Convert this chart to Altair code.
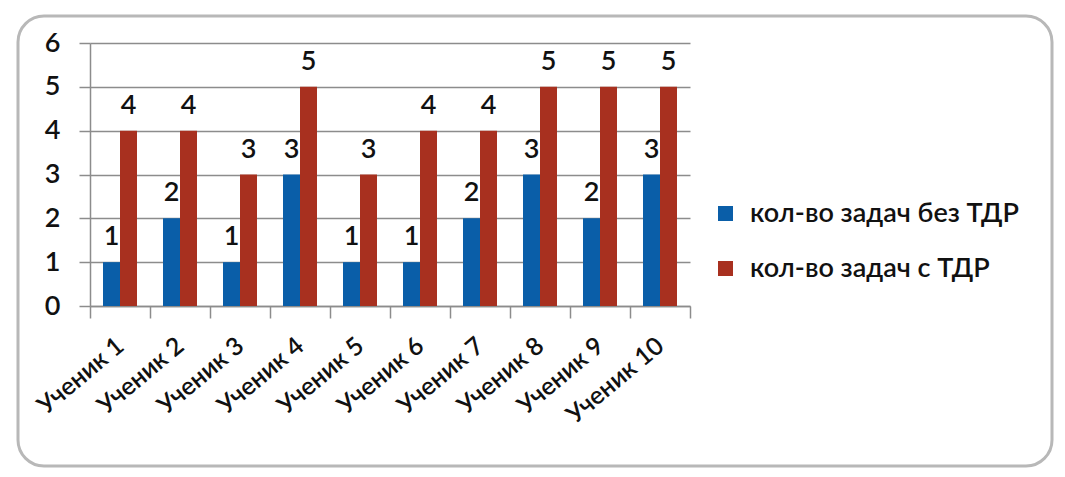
import altair as alt
import pandas as pd

students = ["Ученик 1", "Ученик 2", "Ученик 3", "Ученик 4", "Ученик 5",
            "Ученик 6", "Ученик 7", "Ученик 8", "Ученик 9", "Ученик 10"]
without_tdr = [1, 2, 1, 3, 1, 1, 2, 3, 2, 3]
with_tdr = [4, 4, 3, 5, 3, 4, 4, 5, 5, 5]
series_names = ["кол-во задач без ТДР", "кол-во задач с ТДР"]
series_colors = ["#0A5EA8", "#A8301F"]
y_ticks = [0, 1, 2, 3, 4, 5, 6]

rows = []
for s, a, b in zip(students, without_tdr, with_tdr):
    rows.append({"student": s, "series": series_names[0], "value": a})
    rows.append({"student": s, "series": series_names[1], "value": b})
df = pd.DataFrame(rows)

FONT = "Lato"
WEIGHT = 600
GRID = "#8c8c8c"
TXT = "#111111"

x_enc = alt.X(
    "student:N", sort=students, title=None,
    scale=alt.Scale(paddingInner=0, paddingOuter=0),
    axis=alt.Axis(labelAngle=320, labelAlign="right", labelBaseline="middle",
                  labelFontSize=25, labelColor=TXT, labelFont=FONT,
                  labelFontWeight=WEIGHT,
                  labelPadding=24, tickBand="extent", tickSize=12,
                  tickColor=GRID, tickWidth=1.5, domainColor=GRID,
                  domainWidth=1.5, grid=False, labelLimit=300),
)
xoff = alt.XOffset("series:N", sort=series_names,
                   scale=alt.Scale(paddingInner=0, paddingOuter=0.765))
y_enc = alt.Y(
    "value:Q", title=None,
    scale=alt.Scale(domain=[0, 6], nice=False),
    axis=alt.Axis(values=y_ticks, labelFontSize=27, labelColor=TXT,
                  labelFont=FONT, labelFontWeight=WEIGHT,
                  tickSize=11, tickColor=GRID, tickWidth=1.5,
                  gridColor=GRID, gridWidth=1.5, domainColor=GRID,
                  domainWidth=1.5, labelPadding=19),
)

bars = alt.Chart(df).mark_bar().encode(
    x=x_enc, xOffset=xoff, y=y_enc,
    color=alt.Color(
        "series:N", sort=series_names,
        scale=alt.Scale(domain=series_names, range=series_colors),
        legend=alt.Legend(title=None, orient="none", legendX=622, legendY=157,
                          symbolType="square", symbolSize=225,
                          symbolStrokeWidth=0, labelFontSize=27,
                          labelFont=FONT, labelFontWeight=WEIGHT,
                          labelColor=TXT,
                          rowPadding=27, labelOffset=11, labelLimit=400),
    ),
)

labels = alt.Chart(df).mark_text(
    baseline="bottom", dy=-11, fontSize=27, font=FONT, fontWeight=WEIGHT,
    color=TXT
).encode(x=x_enc, xOffset=xoff, y=y_enc, text="value:Q")

frame = alt.Chart(pd.DataFrame({"k": [0]})).mark_rect(
    fill=None, stroke="#b8b8b8", strokeWidth=3, cornerRadius=26, clip=False
).encode(x=alt.value(-72), x2=alt.value(962), y=alt.value(-27), y2=alt.value(423))

chart = alt.layer(frame, bars, labels).properties(
    width=600, height=263,
    autosize=alt.AutoSizeParams(type="none"),
    padding={"left": 90, "top": 43, "right": 375, "bottom": 171},
    background="white",
).configure_view(stroke=None)

chart.save("out.html", embed_options={"renderer": "svg", "actions": False})
